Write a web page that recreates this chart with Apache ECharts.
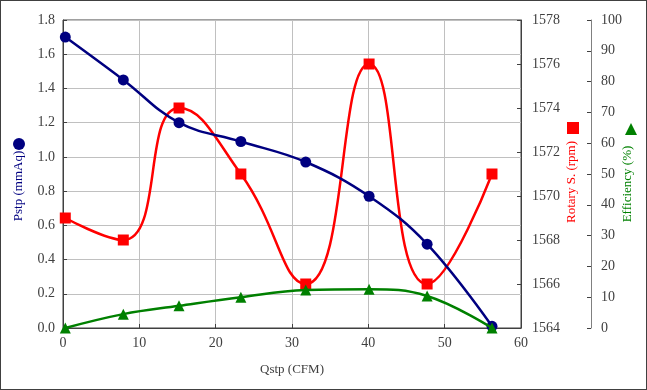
<!DOCTYPE html>
<html><head><meta charset="utf-8">
<script src="https://cdn.jsdelivr.net/npm/echarts@6/dist/echarts.min.js"></script>
<style>html,body{margin:0;padding:0;background:#fff}#c{width:645px;height:388px;border:1px solid #404040}</style>
</head><body><div id="c"></div>
<script>
const qstp = [0.3, 7.9, 15.2, 23.3, 31.8, 40.1, 47.7, 56.2];
const pstp = [1.70, 1.45, 1.20, 1.09, 0.97, 0.77, 0.49, 0.01];
const rotary = [1569.0, 1568.0, 1574.0, 1571.0, 1566.0, 1576.0, 1566.0, 1571.0];
const efficiency = [0.0, 4.5, 7.2, 10.0, 12.3, 12.6, 10.4, 0.0];

const FONT = '"Liberation Serif", "DejaVu Serif", serif';
const pair = (xs, ys) => xs.map((x, i) => [x, ys[i]]);
const labelStyle = {color: '#404040', fontFamily: FONT, fontSize: 14};

const chart = echarts.init(document.getElementById('c'));
chart.setOption({
  animation: false,
  backgroundColor: '#fff',
  grid: {left: 62, right: 125, top: 19, bottom: 61, show: true, borderColor: '#404040', borderWidth: 1,
         containLabel: false, outerBoundsMode: 'none'},
  xAxis: {
    type: 'value', min: 0, max: 60, interval: 10,
    name: 'Qstp (CFM)', nameLocation: 'middle', nameGap: 35, nameMoveOverlap: false,
    nameTextStyle: {color: '#404040', fontFamily: FONT, fontSize: 13},
    axisLine: {lineStyle: {color: '#404040'}},
    axisTick: {inside: true, length: 4, lineStyle: {color: '#404040'}},
    axisLabel: Object.assign({margin: 8}, labelStyle),
    splitLine: {show: true, lineStyle: {color: '#c0c0c0'}}
  },
  yAxis: [
    {
      type: 'value', min: 0, max: 1.8, interval: 0.2, position: 'left',
      name: 'Pstp (mmAq)', nameLocation: 'middle', nameGap: 38, nameRotate: 90, nameMoveOverlap: false,
      nameTextStyle: {color: '#000080', fontFamily: FONT, fontSize: 13, padding: [0, 24, 0, 0]},
      axisLine: {show: true, lineStyle: {color: '#404040'}},
      axisTick: {show: true, inside: true, length: 4, lineStyle: {color: '#404040'}},
      axisLabel: Object.assign({margin: 8, formatter: v => v.toFixed(1)}, labelStyle),
      splitLine: {show: true, lineStyle: {color: '#c0c0c0'}}
    },
    {
      type: 'value', min: 1564, max: 1578, interval: 2, position: 'right',
      name: 'Rotary S. (rpm)', nameLocation: 'middle', nameGap: 44, nameRotate: 90, nameMoveOverlap: false,
      nameTextStyle: {color: '#ff0000', fontFamily: FONT, fontSize: 13, padding: [0, 16, 0, 0]},
      axisLine: {show: true, lineStyle: {color: '#404040'}},
      axisTick: {show: true, inside: true, length: 4, lineStyle: {color: '#404040'}},
      axisLabel: Object.assign({margin: 11, formatter: v => String(v)}, labelStyle),
      splitLine: {show: false}
    },
    {
      type: 'value', min: 0, max: 100, interval: 10, position: 'right', offset: 70,
      name: 'Efficiency (%)', nameLocation: 'middle', nameGap: 30, nameRotate: 90, nameMoveOverlap: false,
      nameTextStyle: {color: '#008000', fontFamily: FONT, fontSize: 13, padding: [0, 20, 0, 0]},
      axisLine: {show: true, lineStyle: {color: '#808080'}},
      axisTick: {show: true, inside: true, length: 4, lineStyle: {color: '#404040'}},
      axisLabel: Object.assign({margin: 10}, labelStyle),
      splitLine: {show: false}
    }
  ],
  series: [
    {
      type: 'line', yAxisIndex: 0, data: pair(qstp, pstp), smooth: 0.4,
      symbol: 'circle', symbolSize: 11,
      lineStyle: {color: '#000080', width: 2.5}, itemStyle: {color: '#000080'}, z: 3
    },
    {
      type: 'line', yAxisIndex: 1, data: pair(qstp, rotary), smooth: 0.5,
      symbol: 'rect', symbolSize: 11,
      lineStyle: {color: '#ff0000', width: 2.5}, itemStyle: {color: '#ff0000'}, z: 2
    },
    {
      type: 'line', yAxisIndex: 2, data: pair(qstp, efficiency), smooth: 0.4,
      symbol: 'triangle', symbolSize: 11,
      lineStyle: {color: '#008000', width: 2.5}, itemStyle: {color: '#008000'}, z: 4
    }
  ],
  graphic: [
    {type: 'circle', shape: {cx: 18, cy: 143, r: 6}, style: {fill: '#000080'}},
    {type: 'rect', shape: {x: 566, y: 121, width: 12, height: 12}, style: {fill: '#ff0000'}},
    {type: 'polygon', shape: {points: [[630, 122], [624, 134], [636, 134]]}, style: {fill: '#008000'}}
  ]
});
</script></body></html>
